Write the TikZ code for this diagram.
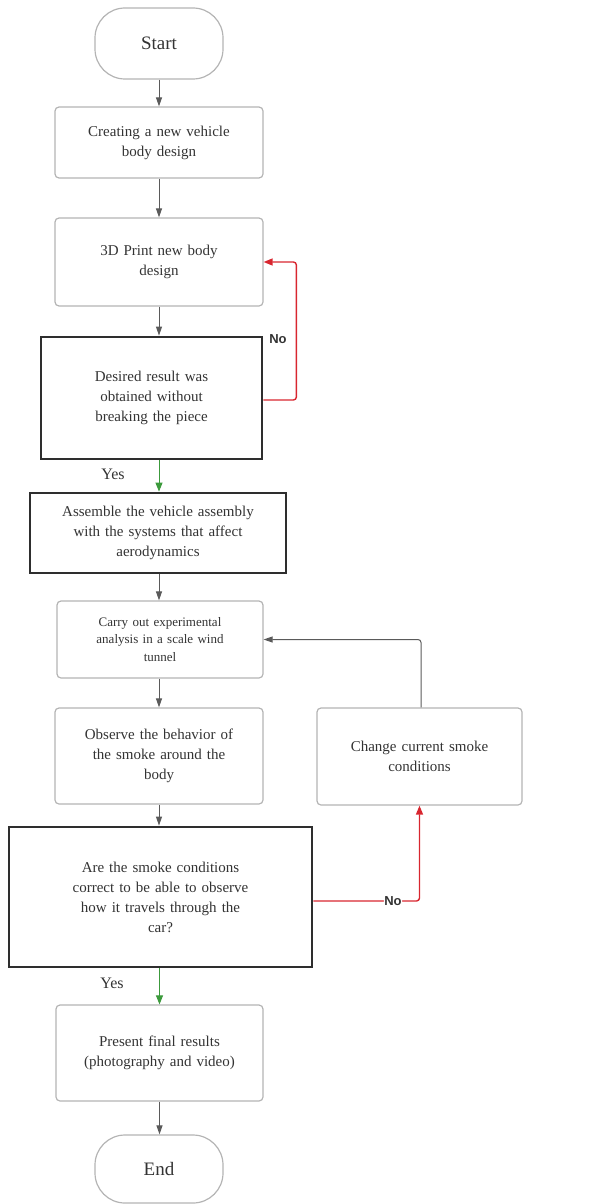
\documentclass[tikz,border=0pt]{standalone}
\usepackage{fontspec}
\setmainfont{Liberation Serif}
\setsansfont{Liberation Sans}
\usepackage{tikz}
\usetikzlibrary{shapes,arrows.meta,positioning,calc}
\usepackage{xcolor}
\definecolor{linegray}{HTML}{B4B4B4}
\definecolor{boxdark}{HTML}{2E2E2E}
\definecolor{txtgray}{HTML}{333333}
\definecolor{arrgray}{HTML}{5A5A5A}
\definecolor{noRed}{HTML}{D8262F}
\definecolor{yesGreen}{HTML}{3C9A3C}

\tikzset{
    terminal/.style={draw=linegray, line width=1.2pt, rounded corners=30pt,
        minimum width=128pt, text=txtgray, font=\fontsize{19}{22}\selectfont},
    process/.style={draw=linegray, line width=1.2pt, rounded corners=4pt,
        align=center, text=txtgray, inner sep=0pt, font=\fontsize{15}{20}\selectfont},
    decision/.style={draw=boxdark, line width=2.8pt, align=center,
        text=txtgray, inner sep=0pt, font=\fontsize{15}{20}\selectfont},
    flow/.style={arrgray, line width=1pt, -{Triangle[length=9pt,width=6pt]}},
    noflow/.style={noRed, line width=1.4pt, rounded corners=3pt, -{Triangle[length=9pt,width=7pt]}},
    yesflow/.style={yesGreen, line width=1pt, -{Triangle[length=9pt,width=7pt]}},
    yeslabel/.style={text=txtgray, font=\fontsize{16}{18}\selectfont},
    nolabel/.style={text=txtgray, font=\sffamily\bfseries\fontsize{13}{15}\selectfont}
}

\begin{document}
\begin{tikzpicture}[x=1pt, y=-1pt]
    \useasboundingbox (0,0) rectangle (600,1204);

    % Main column
    \node[terminal, minimum height=71pt] (start) at (159,43.5) {Start};
    \node[process, minimum width=208pt, minimum height=71pt, text width=160pt] (create) at (159,142.5)
        {Creating a new vehicle\\ body design};
    \node[process, minimum width=208pt, minimum height=88pt, text width=160pt] (print) at (159,262)
        {3D Print new body\\ design\\[16pt]};
    \node[decision, minimum width=221pt, minimum height=122pt, text width=170pt] (check) at (151.5,398)
        {Desired result was\\ obtained without\\ breaking the piece};
    \node[decision, minimum width=256pt, minimum height=80pt, text width=240pt] (assemble) at (158,533)
        {Assemble the vehicle assembly\\ with the systems that affect\\ aerodynamics};
    \node[process, minimum width=206pt, minimum height=77pt, text width=180pt,
        font=\fontsize{13}{17.5}\selectfont] (carry) at (160,639.5)
        {Carry out experimental\\ analysis in a scale wind\\ tunnel};
    \node[process, minimum width=208pt, minimum height=96pt, text width=180pt] (observe) at (159,756)
        {Observe the behavior of\\ the smoke around the\\ body};
    \node[decision, minimum width=303pt, minimum height=140pt, text width=260pt] (smoke) at (160.5,897)
        {Are the smoke conditions\\ correct to be able to observe\\ how it travels through the\\ car?};
    \node[process, minimum width=207pt, minimum height=96pt, text width=180pt] (present) at (159.5,1053)
        {Present final results\\ (photography and video)};
    \node[terminal, minimum height=68pt] (finish) at (159,1169) {End};

    % Side box
    \node[process, minimum width=205pt, minimum height=97pt, text width=180pt] (change) at (419.5,756.5)
        {Change current smoke\\ conditions};

    % Straight arrows
    \draw[flow] (start.south) -- (start.south |- create.north);
    \draw[flow] (create.south) -- (create.south |- print.north);
    \draw[flow] (print.south) -- (print.south |- check.north);
    \draw[yesflow] (print.south |- check.south) -- (print.south |- assemble.north);
    \draw[flow] (print.south |- assemble.south) -- (print.south |- carry.north);
    \draw[flow] (print.south |- carry.south) -- (print.south |- observe.north);
    \draw[flow] (observe.south) -- (observe.south |- smoke.north);
    \draw[yesflow] (present.north |- smoke.south) -- (present.north);
    \draw[flow] (present.south) -- (present.south |- finish.north);

    % Loops
    \coordinate (loopA) at ($(check.east)+(33,2)$);
    \draw[noflow] ($(check.east)+(0,2)$) -- (loopA) |- (print.east);
    \draw[noflow] ($(smoke.east)+(0,4)$) -- ($(change.south |- smoke.east)+(0,4)$)
        node[pos=0.75, fill=white, inner sep=0.5pt, nolabel] (no2) {No} -- (change.south);
    \draw[flow, rounded corners=3pt] ($(change.north)+(1.5,0)$) |- (carry.east);

    % Labels
    \node[nolabel] (no1) at (278,339) {No};
    \node[yeslabel] (yes1) at (113,474) {Yes};
    \node[yeslabel] (yes2) at (112,983) {Yes};
\end{tikzpicture}
\end{document}
